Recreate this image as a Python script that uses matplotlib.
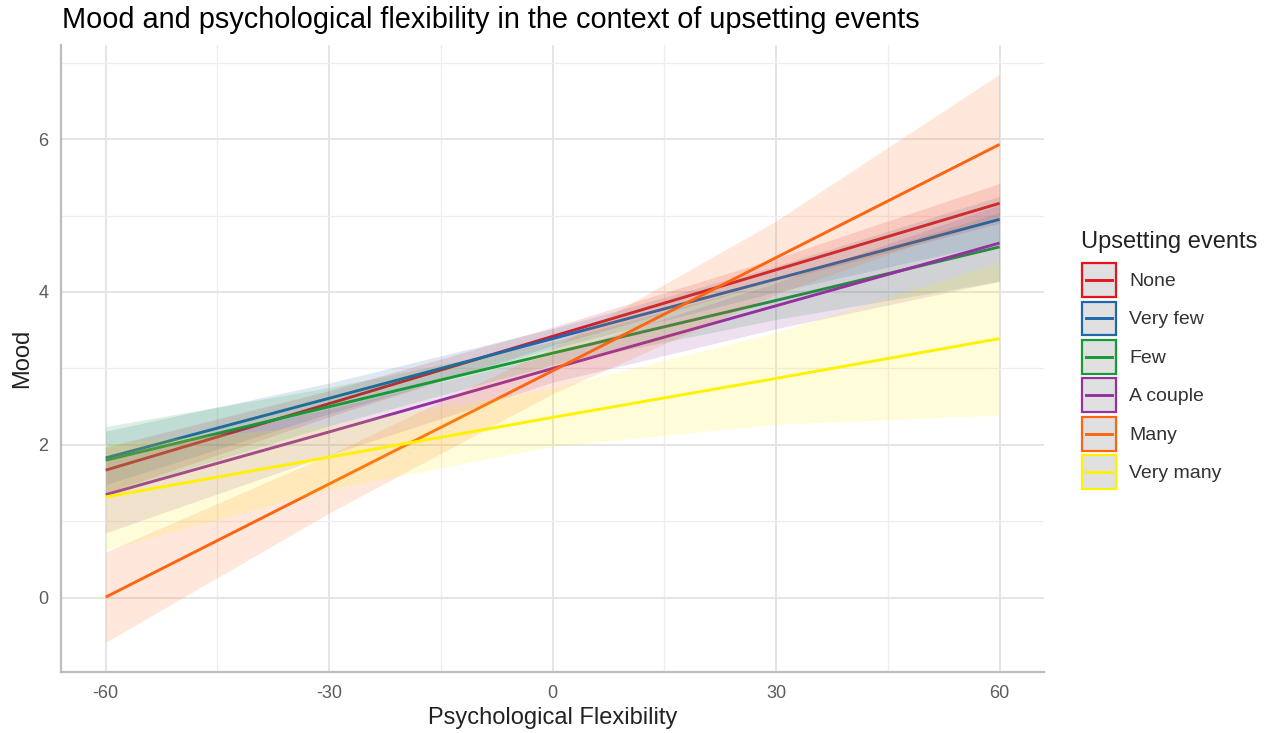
import matplotlib
matplotlib.use("Agg")
import matplotlib.pyplot as plt
from matplotlib.patches import Rectangle
from matplotlib.lines import Line2D
from matplotlib.legend_handler import HandlerBase
from matplotlib.ticker import MultipleLocator
import numpy as np

plt.rcParams['font.family'] = ['Liberation Sans', 'DejaVu Sans']
plt.rcParams['axes.unicode_minus'] = False

# values (fit and 95% band at x = -60, -30, 0, 30, 60)
flex = [-60, -30, 0, 30, 60]
groups = ["None", "Very few", "Few", "A couple", "Many", "Very many"]
colors = ["#E8141C", "#1F66AC", "#169A35", "#9430A0", "#FF6410", "#FFF200"]

fit_none = [1.67, 2.54, 3.42, 4.29, 5.16]
lo_none = [1.37, 2.37, 3.30, 4.14, 4.90]
hi_none = [1.97, 2.71, 3.54, 4.44, 5.42]

fit_veryfew = [1.83, 2.61, 3.39, 4.17, 4.95]
lo_veryfew = [1.48, 2.41, 3.26, 4.00, 4.65]
hi_veryfew = [2.18, 2.81, 3.52, 4.34, 5.25]

fit_few = [1.80, 2.50, 3.20, 3.89, 4.59]
lo_few = [1.36, 2.25, 3.05, 3.64, 4.14]
hi_few = [2.24, 2.75, 3.35, 4.14, 5.04]

fit_couple = [1.35, 2.17, 3.00, 3.82, 4.64]
lo_couple = [0.85, 1.87, 2.82, 3.52, 4.14]
hi_couple = [1.85, 2.47, 3.18, 4.12, 5.14]

fit_many = [0.01, 1.49, 2.97, 4.45, 5.93]
lo_many = [-0.58, 1.11, 2.67, 3.97, 5.01]
hi_many = [0.60, 1.87, 3.27, 4.93, 6.85]

fit_verymany = [1.32, 1.84, 2.36, 2.87, 3.39]
lo_verymany = [0.63, 1.42, 1.98, 2.27, 2.39]
hi_verymany = [2.01, 2.26, 2.74, 3.47, 4.39]

fits = [fit_none, fit_veryfew, fit_few, fit_couple, fit_many, fit_verymany]
lows = [lo_none, lo_veryfew, lo_few, lo_couple, lo_many, lo_verymany]
highs = [hi_none, hi_veryfew, hi_few, hi_couple, hi_many, hi_verymany]


class BoxKey(HandlerBase):
    # grey box with coloured border and a coloured line through the middle
    def create_artists(self, legend, orig_handle, xdescent, ydescent, width, height, fontsize, trans):
        c = orig_handle.get_color()
        box = Rectangle((-xdescent, -ydescent), width, height, facecolor='#e0e0e0',
                        edgecolor=c, lw=1.6, transform=trans)
        ym = -ydescent + height / 2
        ln = Line2D([-xdescent + 3, -xdescent + width - 3], [ym, ym], color=c, lw=2.1, transform=trans)
        return [box, ln]


fig = plt.figure(figsize=(12.72, 7.33), dpi=100)
ax = fig.add_axes([0.048, 0.0832, 0.773, 0.8554])

handles = []
for i, (g, c) in enumerate(zip(groups, colors)):
    ax.fill_between(flex, lows[i], highs[i], color=c, alpha=0.15, lw=0, zorder=2 + 2 * i)
    l, = ax.plot(flex, fits[i], color=c, lw=2.1, zorder=3 + 2 * i, solid_capstyle='butt')
    handles.append(l)

ax.set_xlim(-66, 66)
ax.set_ylim(-0.97, 7.23)
ax.xaxis.set_major_locator(MultipleLocator(30))
ax.xaxis.set_minor_locator(MultipleLocator(15))
ax.yaxis.set_major_locator(MultipleLocator(2))
ax.yaxis.set_minor_locator(MultipleLocator(1))
ax.grid(which='major', color='#e3e3e3', lw=1.3, zorder=0)
ax.grid(which='minor', color='#eeeeee', lw=0.9, zorder=0)
ax.set_axisbelow(True)

for s in ['top', 'right']:
    ax.spines[s].set_visible(False)
for s in ['left', 'bottom']:
    ax.spines[s].set_color('#bdbdbd')
    ax.spines[s].set_linewidth(1.6)

ax.tick_params(which='both', length=0, labelsize=13, labelcolor='#5c5c5c', pad=9)
ax.set_xlabel("Psychological Flexibility", fontsize=17, color='#222222', labelpad=4)
ax.set_ylabel("Mood", fontsize=17, color='#222222', labelpad=4)
fig.text(62 / 1272, 1 - 28 / 733, "Mood and psychological flexibility in the context of upsetting events",
         fontsize=20.8, color='black', ha='left', va='baseline')

# legend: title as separate text, keys as boxes with a line
fig.text(1081 / 1272, 1 - 248 / 733, "Upsetting events", fontsize=17, color='#222222',
         ha='left', va='baseline')
leg = fig.legend(handles, groups, loc='upper left', bbox_to_anchor=(1082 / 1272, 1 - 263 / 733),
                 frameon=False, fontsize=14, handler_map={Line2D: BoxKey()},
                 handlelength=1.75, handleheight=2.3, labelspacing=0.24, handletextpad=0.68,
                 borderpad=0, borderaxespad=0)
for t in leg.get_texts():
    t.set_color('#333333')

fig.savefig("out.png", dpi=100)
